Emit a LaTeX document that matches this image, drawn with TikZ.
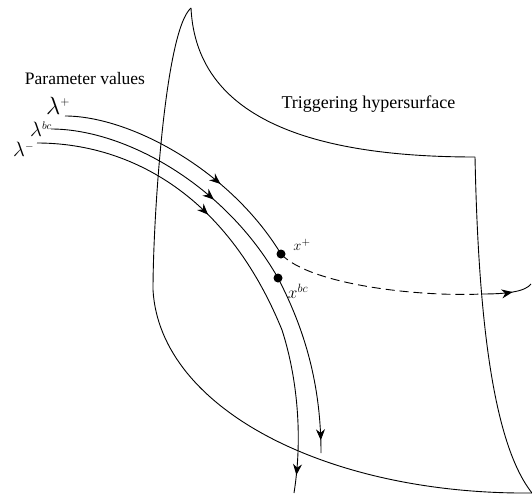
\documentclass[tikz,border=0pt]{standalone}
\usepackage{fontspec}
\setmainfont{Liberation Serif}
\usepackage{xcolor}
\usepackage{tikz}
\usetikzlibrary{arrows.meta,decorations.markings}
\tikzset{
  curveline/.style={line width=0.9pt},
  dotnode/.style={circle,fill=black,inner sep=0pt,minimum size=9pt},
  labelnode/.style={inner sep=0pt},
  flowmark/.style={postaction={decorate,decoration={markings,mark=at position #1 with {\arrow{Stealth[length=11pt,width=9pt]}}}}}
}
\begin{document}
\begin{tikzpicture}[x=1pt,y=-1pt]
\useasboundingbox (0,0) rectangle (532,495);
% surface
\coordinate (topcorner) at (191,8);
\coordinate (rightcorner) at (475,157);
\coordinate (leftcorner) at (153,290);
\coordinate (bottomcorner) at (532,493);
\draw[curveline] (topcorner) .. controls (195,90) and (260,157) .. (rightcorner);
\draw[curveline] (topcorner) .. controls (165,30) and (153,220) .. (leftcorner);
\draw[curveline] (leftcorner) .. controls (160,410) and (330,495) .. (bottomcorner);
\draw[curveline] (rightcorner) .. controls (478,300) and (490,440) .. (bottomcorner);
% labels
\node[labelnode] (paramlabel) at (85,79) {\fontsize{17.5}{17.5}\selectfont Parameter values};
\node[labelnode] (triglabel) at (368.5,104) {\fontsize{18}{18}\selectfont Triggering hypersurface};
\node[labelnode,anchor=south west] (lamplus) at (46,115) {\fontsize{23}{23}\selectfont $\lambda^{\scriptscriptstyle +}$};
\node[labelnode,anchor=south west] (lambc) at (30,137) {\fontsize{21}{21}\selectfont $\lambda^{\scriptscriptstyle bc}$};
\node[labelnode,anchor=south west] (lamminus) at (13,157) {\fontsize{22}{22}\selectfont $\lambda^{\scriptscriptstyle -}$};
\node[dotnode] (xplus) at (281,254) {};
\node[dotnode] (xbc) at (278,278) {};
\node[labelnode] (xpluslabel) at (302,245) {\fontsize{15}{15}\selectfont $x^{+}$};
\node[labelnode] (xbclabel) at (298,291) {\fontsize{17}{17}\selectfont $x^{bc}$};
% trajectories
\coordinate (startplus) at (65,116);
\coordinate (startbc) at (51,129);
\coordinate (startminus) at (37,143);
\coordinate (endbc) at (321,453);
\coordinate (midminus) at (282,330);
\coordinate (endminus) at (294,493);
\coordinate (dashend) at (482,294);
\coordinate (flowend) at (531,284);
\draw[curveline,flowmark=0.65] (startplus) .. controls (130,116) and (230,170) .. (xplus.center);
\draw[curveline,flowmark=0.64] (startbc) .. controls (125,129) and (225,185) .. (xbc.center);
\draw[curveline,flowmark=0.93] (xbc.center) .. controls (305,330) and (321,385) .. (endbc);
\draw[curveline,flowmark=0.58] (startminus) .. controls (125,143) and (225,190) .. (midminus);
\draw[curveline,flowmark=0.89] (midminus) .. controls (295,370) and (304,430) .. (endminus);
\draw[curveline,dash pattern=on 9pt off 5pt] (xplus.center) .. controls (310,285) and (420,297) .. (dashend);
\draw[curveline,flowmark=0.6] (dashend) .. controls (505,294) and (525,292) .. (flowend);
\end{tikzpicture}
\end{document}
